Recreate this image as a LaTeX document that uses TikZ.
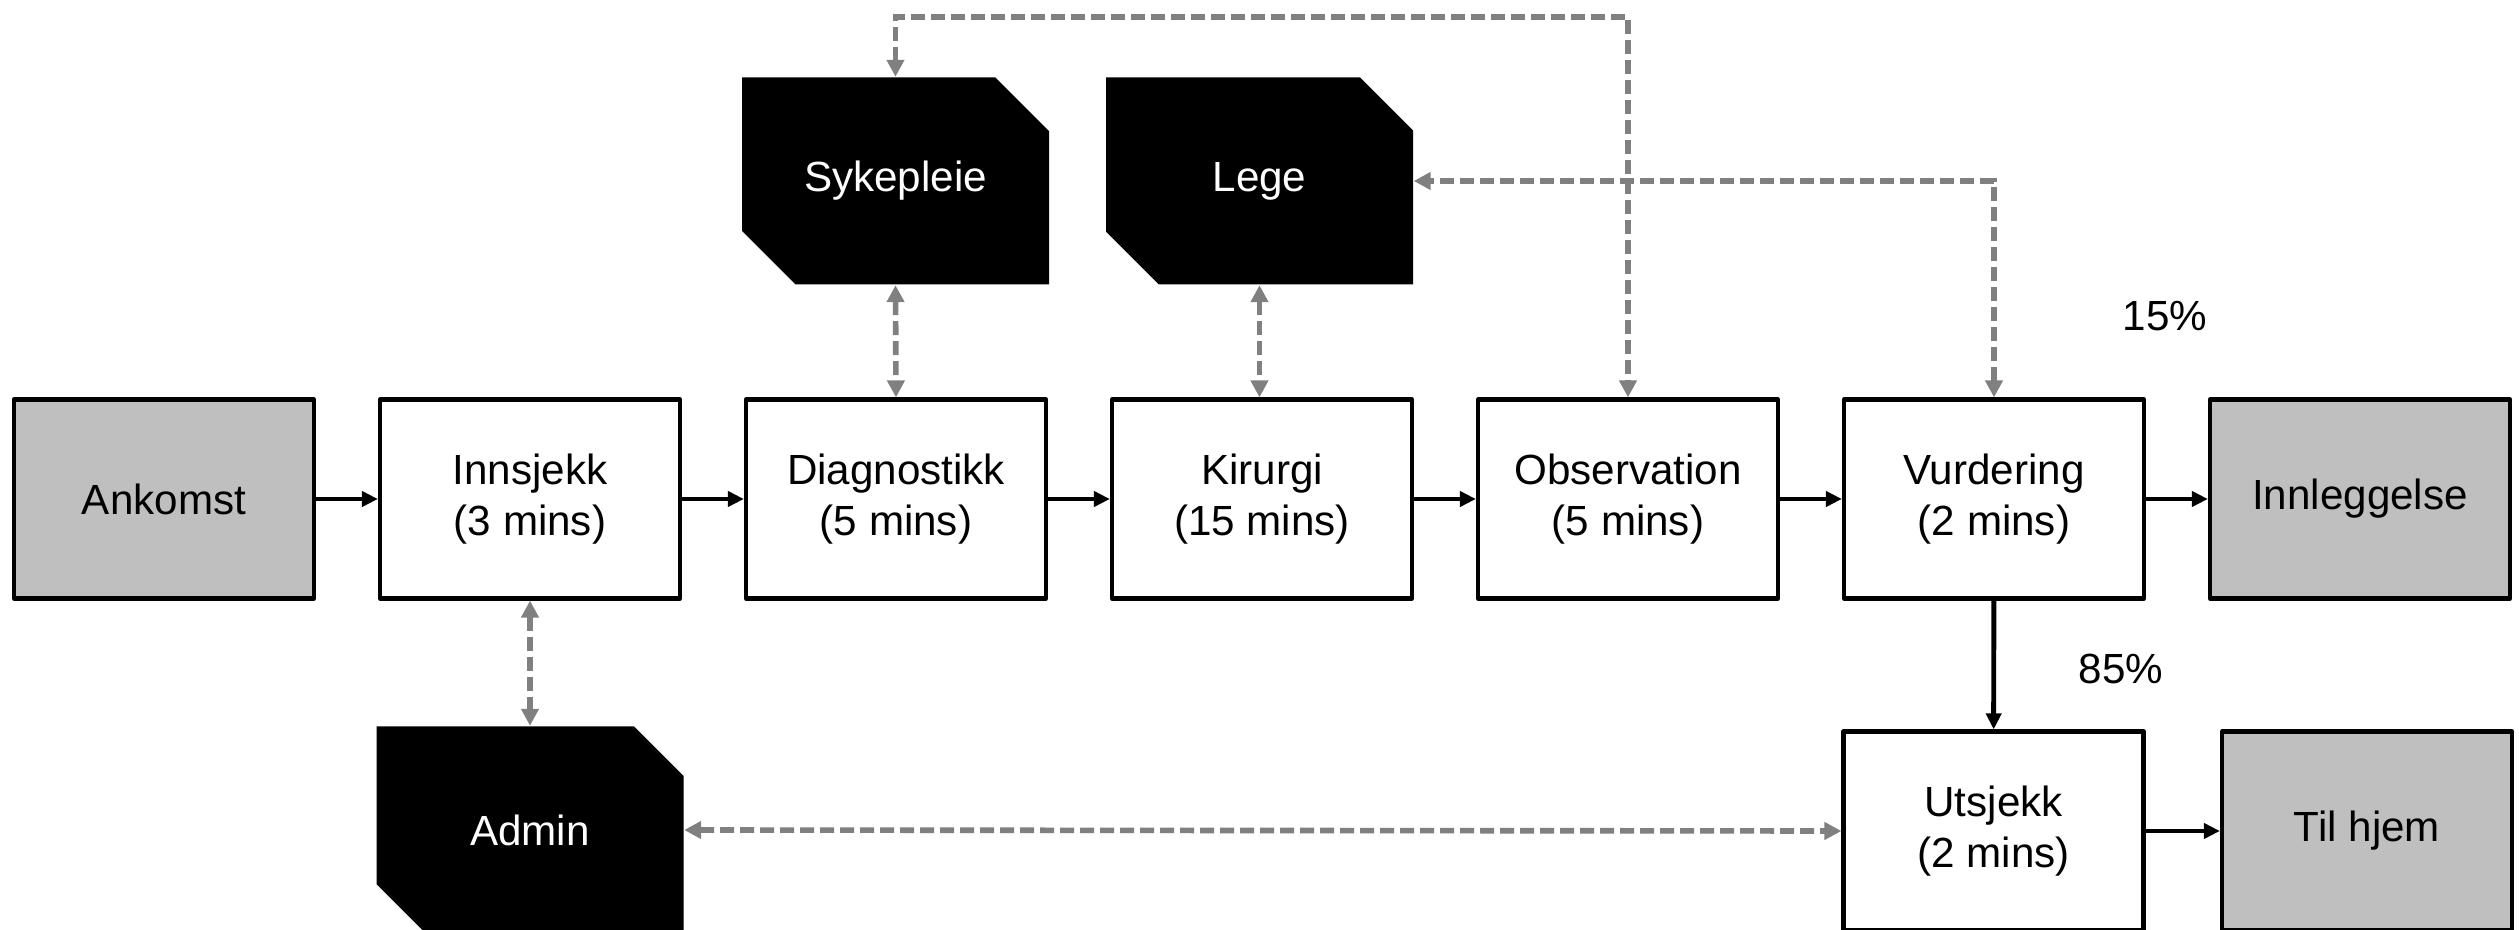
\documentclass[tikz,border=0pt]{standalone}
\usepackage{fontspec}
\setmainfont{Liberation Sans}
\usepackage{tikz}
\usetikzlibrary{shapes.misc,arrows.meta,positioning,calc}
\definecolor{endgray}{HTML}{BFBFBF}
\definecolor{linkgray}{HTML}{808080}

\tikzset{
  stage/.style={draw, rectangle, line width=1.2pt, line join=round, fill=white,
    minimum width=3cm, minimum height=1.99cm, align=center},
  terminal/.style={stage, fill=endgray},
  resource/.style={chamfered rectangle, chamfered rectangle corners={north east,south west},
    chamfered rectangle xsep=0.34cm, chamfered rectangle ysep=0.34cm,
    fill=black, text=white, minimum width=3.07cm, minimum height=2.07cm, inner sep=0pt},
  flow/.style={-{Triangle[length=0.16cm,width=0.15cm]}, line width=1.4pt},
  link/.style={{Triangle[length=0.17cm,width=0.17cm]}-{Triangle[length=0.17cm,width=0.17cm]},
    draw=linkgray, line width=1.6pt, dash pattern=on 0.14cm off 0.06cm},
}

\begin{document}
\begin{tikzpicture}[font=\fontsize{12}{14.4}\selectfont]
  \useasboundingbox (0,0) rectangle (25.19,-9.30);

  % Main flow
  \node[terminal] (ankomst) at (1.64,-4.99) {Ankomst};
  \node[stage] (innsjekk) at (5.30,-4.99) {Innsjekk\\(3 mins)};
  \node[stage] (diagnostikk) at (8.96,-4.99) {Diagnostikk\\(5 mins)};
  \node[stage] (kirurgi) at (12.62,-4.99) {Kirurgi\\(15 mins)};
  \node[stage] (observation) at (16.28,-4.99) {Observation\\(5 mins)};
  \node[stage] (vurdering) at (19.94,-4.99) {Vurdering\\(2 mins)};
  \node[terminal] (innleggelse) at (23.60,-4.99) {Innleggelse};

  % Discharge
  \node[stage] (utsjekk) at (19.935,-8.31) {Utsjekk\\(2 mins)};
  \node[terminal, minimum width=2.90cm] (hjem) at (23.67,-8.31) {Til hjem};

  % Resources
  \node[resource] (sykepleie) at (8.955,-1.81) {Sykepleie};
  \node[resource] (lege) at (12.595,-1.81) {Lege};
  \node[resource] (admin) at (5.30,-8.30) {Admin};

  % Shares
  \node (p15) at (21.65,-3.16) {15\%};
  \node (p85) at (21.21,-6.69) {85\%};

  % Patient flow
  \draw[flow] (ankomst) -- (innsjekk);
  \draw[flow] (innsjekk) -- (diagnostikk);
  \draw[flow] (diagnostikk) -- (kirurgi);
  \draw[flow] (kirurgi) -- (observation);
  \draw[flow] (observation) -- (vurdering);
  \draw[flow] (vurdering) -- (innleggelse);
  \draw[flow] (vurdering) -- (utsjekk);
  \draw[flow] (utsjekk) -- (hjem);

  % Resource links
  \draw[link] (sykepleie.south) -- (diagnostikk.north);
  \draw[link] (sykepleie.north) -- ++(0,0.60) -| (observation.north);
  \draw[link] (lege.south) -- (lege.south |- kirurgi.north);
  \draw[link] (vurdering.north) |- (lege.east);
  \draw[link] (innsjekk.south) -- (admin.north);
  \draw[link] (admin.east) -- (utsjekk.west);
\end{tikzpicture}
\end{document}
